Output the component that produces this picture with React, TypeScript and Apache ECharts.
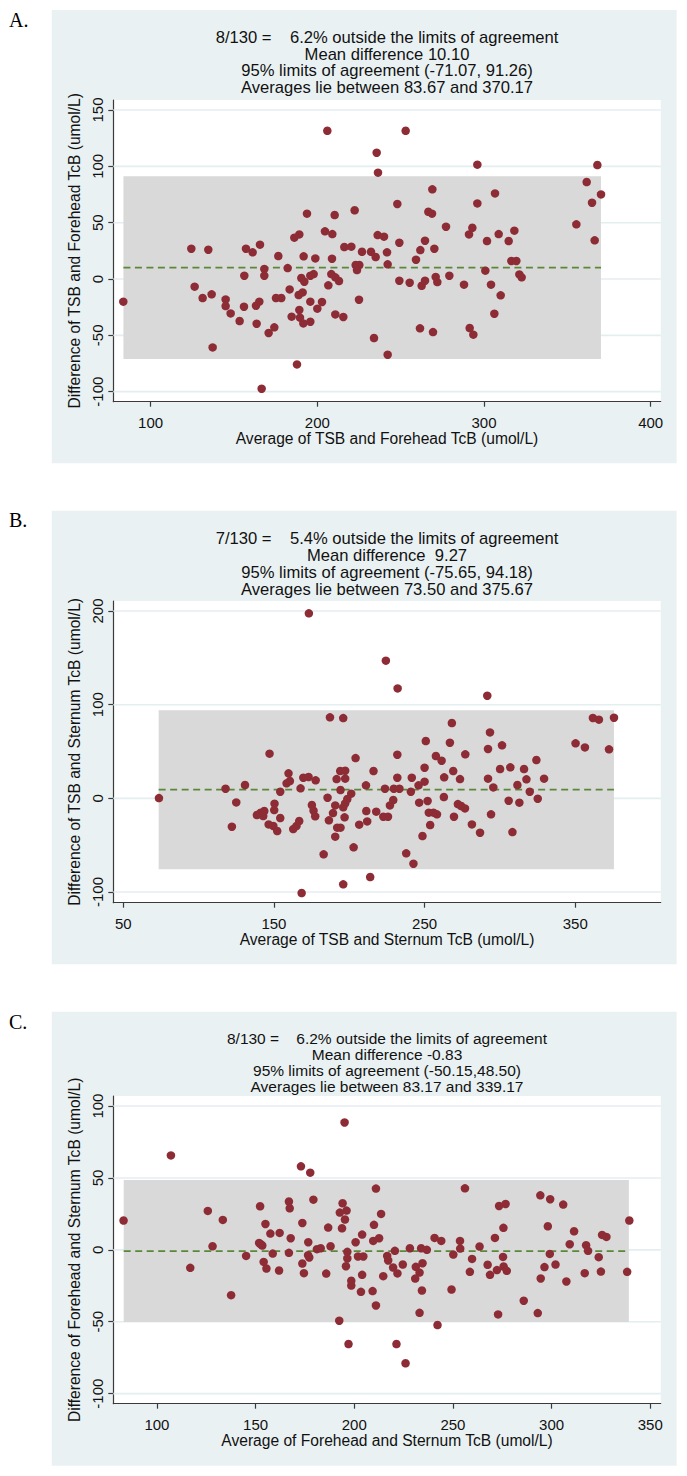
import React, { useEffect, useRef } from "react";
import * as echarts from "echarts";

// ---------- Panel A: TSB vs Forehead TcB ----------
const aAvg = [83.6, 124.4, 126.4, 131.2, 134.6, 136.6, 137.2, 145.0, 145.0, 148.0, 153.4, 156.2, 156.0, 157.2, 161.2, 165.6, 163.2, 165.2, 163.6, 168.2, 168.2, 170.8, 174.2, 176.6, 175.2, 178.4, 182.2, 183.4, 184.6, 186.2, 189.2, 187.8, 189.6, 189.2, 188.8, 191.2, 190.4, 192.2, 191.6, 191.8, 193.8, 195.8, 195.8, 195.8, 197.8, 198.8, 200.0, 202.8, 206.0, 204.6, 209.0, 206.6, 210.4, 208.8, 208.4, 210.8, 213.0, 210.8, 215.6, 216.2, 220.4, 222.4, 223.0, 225.2, 223.8, 225.0, 226.8, 232.2, 235.0, 235.6, 236.4, 236.2, 240.0, 234.0, 241.8, 242.2, 242.2, 248.0, 249.2, 249.2, 253.0, 255.4, 259.2, 261.8, 264.6, 261.6, 262.6, 264.6, 266.6, 268.8, 269.0, 270.2, 269.4, 271.0, 272.0, 277.2, 279.2, 288.0, 291.0, 293.0, 296.0, 296.0, 291.4, 293.6, 300.8, 301.8, 304.2, 306.2, 306.6, 308.8, 310.0, 314.8, 316.4, 319.4, 318.2, 321.2, 322.6, 355.4, 361.6, 364.8, 366.4, 368.0, 370.2, 166.6];
const aDiff = [-20.1, 26.9, -6.8, -16.9, 26.0, -13.6, -60.7, -18.1, -24.0, -30.5, -37.3, 2.9, -24.6, 26.9, 23.7, 30.5, -23.7, -20.1, -39.7, 8.9, 2.9, -47.9, -42.9, 20.4, -16.9, -16.9, 9.7, -9.2, -33.4, 36.7, 39.6, -75.8, -34.3, -27.5, -14.2, -11.9, 0.9, -2.4, -39.4, 20.1, 58.0, -20.1, -37.9, 2.9, 4.4, 18.3, -26.3, -20.4, 131.6, 42.3, 39.9, -5.6, 56.8, 18.0, 4.4, 1.5, -1.8, -31.4, -33.7, 28.4, 28.7, 61.0, 12.4, 12.4, 8.0, -18.4, 24.2, 24.2, 19.5, 112.1, 94.4, 39.0, 37.6, -52.4, 23.7, 13.0, -67.2, 66.6, 32.2, -1.5, 131.6, -3.3, 17.1, 25.7, 34.0, -43.8, -6.0, -1.5, 59.7, 58.0, 79.6, 26.9, -47.1, 1.8, -2.7, 46.4, 2.9, -5.0, 39.6, 45.5, 101.5, 67.1, -43.5, -49.4, 7.4, 33.7, -5.0, -30.8, 76.0, 39.9, -14.5, 33.7, 16.0, 16.0, 42.9, 4.1, 1.5, 48.5, 86.1, 67.7, 34.3, 101.2, 75.1, -97.4];
const aLimits = [-71.07, 10.1, 91.26]; // lower limit, mean difference, upper limit
const aAvgRange = [83.67, 370.17];
const aXTicks = [100, 200, 300, 400];
const aYTicks = [-100, -50, 0, 50, 100, 150];
const aXExtent = [77.6, 406];
const aYExtent = [-108.9, 158.9];
const aTitle = [
  "8/130 =\u00a0\u00a0\u00a0\u00a06.2% outside the limits of agreement",
  "Mean difference 10.10",
  "95% limits of agreement (-71.07, 91.26)",
  "Averages lie between 83.67 and 370.17",
];
const aXName = "Average of TSB and Forehead TcB (umol/L)";
const aYName = "Difference of TSB and Forehead TcB (umol/L)";

// ---------- Panel B: TSB vs Sternum TcB ----------
const bAvg = [73.7, 173.2, 117.9, 130.8, 125.0, 122.1, 147.1, 138.7, 141.2, 143.6, 142.9, 146.5, 149.6, 152.2, 150.4, 150.2, 154.2, 154.2, 158.4, 159.7, 160.6, 162.8, 165.0, 166.8, 167.7, 169.5, 173.0, 177.7, 175.2, 176.3, 177.4, 168.4, 183.0, 185.6, 187.2, 196.0, 186.5, 189.2, 190.7, 191.6, 194.0, 197.3, 197.3, 194.2, 190.7, 192.0, 194.2, 196.0, 197.3, 198.7, 201.3, 196.9, 196.0, 202.9, 204.2, 206.6, 211.3, 211.1, 211.9, 216.1, 213.9, 217.9, 222.6, 225.7, 223.7, 227.0, 229.2, 224.3, 231.9, 231.9, 232.1, 229.6, 233.3, 237.8, 242.6, 240.9, 241.5, 246.4, 246.0, 248.6, 250.0, 250.0, 250.8, 252.0, 252.8, 253.7, 255.9, 258.2, 257.5, 261.3, 263.0, 262.8, 266.8, 268.1, 269.0, 269.5, 273.5, 272.1, 274.3, 276.8, 277.0, 281.4, 286.8, 291.6, 293.4, 292.1, 292.1, 295.6, 294.1, 300.1, 301.4, 306.9, 305.8, 308.3, 311.6, 312.9, 316.0, 317.6, 319.8, 324.2, 325.1, 329.3, 350.2, 356.4, 361.7, 365.7, 372.4, 375.7];
const bDiff = [0.3, 197.5, 10.3, 14.2, -4.3, -30.3, 47.7, -17.8, -15.3, -13.5, -18.9, -27.8, -29.5, -34.9, -5.7, -12.5, -21.0, 7.1, 16.0, 26.7, 18.5, -32.8, -29.5, -24.2, 10.7, 22.0, 22.8, 19.2, -7.1, -13.2, -19.2, -101.1, -59.8, 0.7, 86.5, 85.7, -23.5, -15.7, -7.5, 20.6, 29.2, 29.5, 21.0, 8.9, -40.9, -31.3, -31.3, -9.6, -5.3, -0.7, 5.0, -20.3, -91.8, -52.3, 43.0, -28.1, -13.5, 13.9, -24.6, 29.2, -84.0, -14.2, -19.6, -19.6, 10.3, -7.5, -1.8, 147.0, 46.6, 22.0, 117.4, 10.3, 10.3, -58.7, -69.8, 7.1, 22.0, -4.6, 13.9, -40.2, 17.8, 32.7, 61.2, -2.8, -15.3, -28.5, -15.3, -17.1, 45.2, 40.2, 22.4, 1.4, 59.4, 80.4, 29.2, -19.6, 20.6, -6.1, -8.2, -10.7, 47.0, -27.8, -36.7, 109.6, 70.4, 52.7, 21.0, 11.7, -17.1, 31.3, 56.6, 33.1, -2.5, -36.0, 14.2, -4.6, 31.3, 20.3, 7.1, 40.9, -0.4, 21.0, 58.7, 54.4, 85.8, 84.0, 52.3, 86.1];
const bLimits = [-75.65, 9.27, 94.18];
const bAvgRange = [73.5, 375.67];
const bXTicks = [50, 150, 250, 350];
const bYTicks = [-100, 0, 100, 200];
const bXExtent = [43.4, 406.7];
const bYExtent = [-111.4, 210.7];
const bTitle = [
  "7/130 =\u00a0\u00a0\u00a0\u00a05.4% outside the limits of agreement",
  "Mean difference\u00a0\u00a09.27",
  "95% limits of agreement (-75.65, 94.18)",
  "Averages lie between 73.50 and 375.67",
];
const bXName = "Average of TSB and Sternum TcB (umol/L)";
const bYName = "Difference of TSB and Sternum TcB (umol/L)";

// ---------- Panel C: Forehead vs Sternum TcB ----------
const cAvg = [83.1, 107.1, 116.9, 125.8, 128.2, 133.4, 137.6, 145.2, 152.3, 152.6, 151.8, 153.4, 155.0, 154.1, 155.5, 157.5, 158.7, 162.2, 161.9, 166.9, 167.3, 167.8, 166.9, 173.0, 177.7, 173.7, 173.7, 174.5, 176.7, 176.6, 177.2, 179.3, 181.1, 183.0, 185.8, 186.8, 188.0, 192.4, 194.1, 192.7, 196.1, 195.3, 193.8, 195.1, 196.5, 196.5, 195.8, 197.1, 198.5, 198.5, 200.7, 201.9, 204.6, 204.0, 204.0, 203.4, 209.3, 210.0, 209.6, 212.6, 211.0, 213.6, 211.0, 214.7, 216.7, 217.2, 220.6, 219.7, 221.9, 221.4, 224.6, 226.0, 228.2, 230.9, 231.2, 233.1, 233.9, 234.6, 234.3, 233.1, 236.8, 240.7, 244.1, 242.2, 249.3, 250.2, 253.6, 253.7, 256.1, 259.7, 258.6, 263.5, 267.6, 268.8, 271.3, 272.3, 273.4, 276.7, 275.6, 275.4, 275.7, 277.3, 272.9, 285.9, 294.3, 299.3, 298.1, 299.1, 296.4, 294.5, 293.0, 302.0, 305.9, 307.5, 309.2, 311.4, 317.5, 318.5, 316.8, 323.9, 325.0, 325.6, 327.8, 338.3, 339.4];
const cDiff = [20.4, 65.7, -12.5, 27.1, 2.5, 20.8, -31.5, -4.2, 30.3, 3.9, 4.8, 3.0, 18.0, -8.4, -13.0, 11.3, -2.6, 11.8, -14.4, 33.6, 28.9, 8.1, -2.1, 58.1, 53.7, 18.7, -9.5, -16.2, 5.3, -3.7, -5.3, 34.9, 0.5, 1.1, -16.5, 15.5, 2.5, -49.3, 32.4, 25.9, 27.3, 21.1, 15.0, 88.6, -1.4, -6.0, -11.4, -65.5, -21.5, -24.8, 5.3, -4.6, -4.6, 10.6, -17.4, -29.2, -28.7, 17.4, 6.2, 8.1, 42.6, 25.0, -38.7, -18.3, -4.2, -7.4, -0.7, -12.3, -16.4, -65.5, -10.2, -78.9, 1.1, -20.0, -11.8, -15.8, 1.1, -9.3, -28.3, -43.8, 0.0, 8.3, 6.2, -52.3, -27.6, -3.3, 6.2, 0.9, 42.8, -6.3, -15.3, 2.3, -10.4, -17.4, 8.3, -14.1, 30.5, 31.9, 15.3, -4.9, -11.6, -14.6, -44.9, -35.4, 37.9, 35.2, 16.4, -2.8, -12.0, -19.9, -44.0, -10.2, 31.5, -22.0, 3.9, 12.9, 3.2, -0.7, -16.2, -5.1, -15.1, 10.4, 9.0, -15.3, 20.4];
const cLimits = [-50.15, -0.83, 48.5];
const cAvgRange = [83.17, 339.17];
const cXTicks = [100, 150, 200, 250, 300, 350];
const cYTicks = [-100, -50, 0, 50, 100];
const cXExtent = [77.9, 355.3];
const cYExtent = [-107, 107];
const cTitle = [
  "8/130 =\u00a0\u00a0\u00a0\u00a06.2% outside the limits of agreement",
  "Mean difference -0.83",
  "95% limits of agreement (-50.15,48.50)",
  "Averages lie between 83.17 and 339.17",
];
const cXName = "Average of Forehead and Sternum TcB (umol/L)";
const cYName = "Difference of Forehead and Sternum TcB (umol/L)";

const panelLetters = ["A.", "B.", "C."];

const panels = [
  { avg: aAvg, diff: aDiff, limits: aLimits, range: aAvgRange, xTicks: aXTicks, yTicks: aYTicks, xExt: aXExtent, yExt: aYExtent, title: aTitle, xName: aXName, yName: aYName },
  { avg: bAvg, diff: bDiff, limits: bLimits, range: bAvgRange, xTicks: bXTicks, yTicks: bYTicks, xExt: bXExtent, yExt: bYExtent, title: bTitle, xName: bXName, yName: bYName },
  { avg: cAvg, diff: cDiff, limits: cLimits, range: cAvgRange, xTicks: cXTicks, yTicks: cYTicks, xExt: cXExtent, yExt: cYExtent, title: cTitle, xName: cXName, yName: cYName },
];

// layout (page pixels)
const layout = [
  { gridTop: 100, gridH: 301.7, bgTop: 10, bgBottom: 463.3, titleY: 37.3, titleGap: 16.8, titleSize: 16.6, letterY: 20 },
  { gridTop: 601, gridH: 301.7, bgTop: 510.7, bgBottom: 964.3, titleY: 538.3, titleGap: 17, titleSize: 16.6, letterY: 519.7 },
  { gridTop: 1096, gridH: 307.7, bgTop: 1011.7, bgBottom: 1465.7, titleY: 1038.3, titleGap: 15.9, titleSize: 15.5, letterY: 1021.5 },
];

const FONT = '"Liberation Sans", Arial, Helvetica, sans-serif';
const SERIF = '"Liberation Serif", "Times New Roman", serif';
const BG = "#EAF1F3";
const GRIDLINE = "#E4EDF0";
const BAND = "#D9D9D9";
const DOT = "#8E2C36";
const MEAN = "#5A8838";
const AXIS = "#3A3A3A";
const TEXT = "#111111";

const GRID_LEFT = 113.3;
const GRID_W = 547.4;

function buildOption() {
  const grid: any[] = [];
  const xAxis: any[] = [];
  const yAxis: any[] = [];
  const series: any[] = [];
  const graphic: any[] = [];

  panels.forEach((p, i) => {
    const l = layout[i];
    grid.push({
      left: GRID_LEFT,
      top: l.gridTop,
      width: GRID_W,
      height: l.gridH,
      show: true,
      backgroundColor: "#ffffff",
      borderWidth: 0,
    });
    xAxis.push({
      type: "value",
      gridIndex: i,
      min: p.xExt[0],
      max: p.xExt[1],
      axisLine: { show: true, onZero: false, lineStyle: { color: AXIS, width: 1.2 } },
      axisTick: { show: true, inside: false, length: 5, customValues: p.xTicks, lineStyle: { color: AXIS, width: 1.2 } },
      axisLabel: { show: true, customValues: p.xTicks, margin: 13, fontSize: 15, color: TEXT, fontFamily: FONT },
      splitLine: { show: false },
      name: p.xName,
      nameLocation: "middle",
      nameGap: 28,
      nameTextStyle: { fontSize: 15.6, color: TEXT, fontFamily: FONT },
    });
    yAxis.push({
      type: "value",
      gridIndex: i,
      min: p.yExt[0],
      max: p.yExt[1],
      axisLine: { show: true, onZero: false, lineStyle: { color: AXIS, width: 1.2 } },
      axisTick: { show: true, inside: false, length: 5, customValues: p.yTicks, lineStyle: { color: AXIS, width: 1.2 } },
      axisLabel: { show: true, customValues: p.yTicks, rotate: 90, margin: 8, fontSize: 15, color: TEXT, fontFamily: FONT },
      splitLine: { show: false },
      name: p.yName,
      nameLocation: "middle",
      nameGap: 25,
      nameTextStyle: { fontSize: 15.6, color: TEXT, fontFamily: FONT },
    });

    // gridlines at y ticks
    series.push({
      type: "custom",
      xAxisIndex: i,
      yAxisIndex: i,
      z: 1,
      silent: true,
      encode: { x: [0, 1], y: 2 },
      data: p.yTicks.map((v) => [p.xExt[0], p.xExt[1], v]),
      renderItem: (_params: any, api: any) => {
        const a = api.coord([api.value(0), api.value(2)]);
        const b = api.coord([api.value(1), api.value(2)]);
        return {
          type: "line",
          shape: { x1: a[0], y1: a[1], x2: b[0], y2: b[1] },
          style: { stroke: GRIDLINE, lineWidth: 1.6 },
        };
      },
    });
    // limits of agreement band
    series.push({
      type: "custom",
      xAxisIndex: i,
      yAxisIndex: i,
      z: 2,
      silent: true,
      encode: { x: [0, 2], y: [1, 3] },
      data: [[p.range[0], p.limits[0], p.range[1], p.limits[2]]],
      renderItem: (_params: any, api: any) => {
        const lo = api.coord([api.value(0), api.value(1)]);
        const hi = api.coord([api.value(2), api.value(3)]);
        return {
          type: "rect",
          shape: { x: lo[0], y: hi[1], width: hi[0] - lo[0], height: lo[1] - hi[1] },
          style: { fill: BAND },
        };
      },
    });
    // mean difference
    series.push({
      type: "line",
      xAxisIndex: i,
      yAxisIndex: i,
      z: 3,
      silent: true,
      symbol: "none",
      showSymbol: false,
      data: [
        [p.range[0], p.limits[1]],
        [p.range[1], p.limits[1]],
      ],
      lineStyle: { color: MEAN, width: 1.8, type: [7, 4.5] },
    });
    // points
    series.push({
      type: "scatter",
      xAxisIndex: i,
      yAxisIndex: i,
      z: 4,
      silent: true,
      symbol: "circle",
      symbolSize: 8.5,
      itemStyle: { color: DOT, opacity: 1 },
      data: p.avg.map((x, k) => [x, p.diff[k]]),
    });

    // panel background
    graphic.push({
      type: "rect",
      z: -1,
      silent: true,
      shape: { x: 51.7, y: l.bgTop, width: 625, height: l.bgBottom - l.bgTop },
      style: { fill: BG },
    });
    // panel letter
    graphic.push({
      type: "text",
      silent: true,
      x: 9,
      y: l.letterY,
      style: { text: panelLetters[i], fontSize: 20, fontFamily: SERIF, fill: "#000", align: "left", verticalAlign: "middle" },
    });
    // title lines
    p.title.forEach((line, k) => {
      graphic.push({
        type: "text",
        silent: true,
        x: GRID_LEFT + GRID_W / 2,
        y: l.titleY + k * l.titleGap,
        style: { text: line, fontSize: l.titleSize, fontFamily: FONT, fill: TEXT, align: "center", verticalAlign: "middle" },
      });
    });
  });

  return { animation: false, grid, xAxis, yAxis, series, graphic };
}

export default function App() {
  const ref = useRef<HTMLDivElement>(null);
  useEffect(() => {
    document.body.style.margin = "0";
    if (!ref.current) return;
    const chart = echarts.init(ref.current, undefined, { renderer: "svg" });
    chart.setOption(buildOption() as any);
    return () => chart.dispose();
  }, []);
  return <div ref={ref} style={{ position: "absolute", left: 0, top: 0, width: 687, height: 1476 }} />;
}
